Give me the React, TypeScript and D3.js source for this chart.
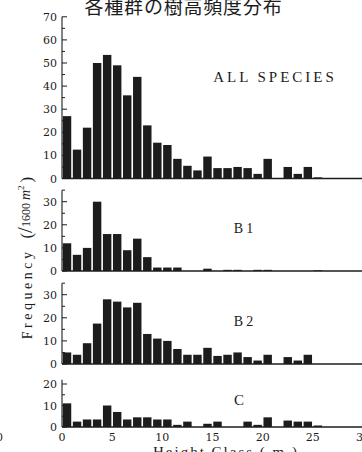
import * as d3 from 'd3';

// height classes (m), one bar per 1 m class
const heightClasses = [0, 1, 2, 3, 4, 5, 6, 7, 8, 9, 10, 11, 12, 13, 14, 15, 16, 17, 18, 19, 20, 21, 22, 23, 24, 25];

// frequency per 1600 m2
const allSpecies = [27, 12.5, 22, 50, 53.5, 49, 36, 44, 23, 15.5, 14.5, 8.5, 5.5, 3.5, 9.5, 4.5, 4.5, 5, 4.5, 2, 8.5, 0, 5, 2, 5, 0.5];
const groupB1 = [12, 7, 10, 30, 16, 16, 9, 14, 6, 1.5, 1.5, 1.5, 0, 0, 1, 0, 0.5, 0.5, 0, 0.5, 0.5, 0, 0, 0, 0, 0.3];
const groupB2 = [5, 4, 9, 17.5, 28, 27, 24.5, 26.5, 13, 11, 10, 6.5, 4, 4, 7, 3.5, 4, 5, 3, 1.5, 4, 0, 3, 1.5, 4, 0];
const groupC = [11, 2.5, 3.5, 3.5, 10, 7, 3.5, 4.5, 4.5, 3.5, 3.5, 1, 2.5, 0, 1.5, 2.5, 0, 0, 2.5, 1, 4.5, 0, 3, 2.5, 2.5, 0.7];

const xTicks = [0, 5, 10, 15, 20, 25, 30];
const allTicks = [0, 10, 20, 30, 40, 50, 60, 70];
const bTicks = [0, 10, 20, 30];
const cTicks = [0, 10, 20];

const W = 362;
const H = 452;
const INK = '#1c1c1c';
const numFont = '"DejaVu Serif", serif';
const txtFont = '"Liberation Serif", serif';

const x = d3.scaleLinear().domain([0, 30]).range([62, 363]);

const panels = [
  { name: 'ALL SPECIES', values: allSpecies, ticks: allTicks, axisTop: 70, base: 178.5, k: 2.31, lx: 275, ly: 82, size: 15, ls: 3 },
  { name: 'B1', values: groupB1, ticks: bTicks, axisTop: 35, base: 271, k: 2.31, lx: 245, ly: 233, size: 14, ls: 3 },
  { name: 'B2', values: groupB2, ticks: bTicks, axisTop: 35, base: 364, k: 2.31, lx: 245, ly: 326, size: 14, ls: 3 },
  { name: 'C', values: groupC, ticks: cTicks, axisTop: 22, base: 427, k: 2.15, lx: 239, ly: 405, size: 15, ls: 0 },
];

function Panel({ p }: { p: (typeof panels)[number] }) {
  const y = d3.scaleLinear().domain([0, p.axisTop]).range([p.base, p.base - p.axisTop * p.k]);
  const minor = d3.range(0, p.axisTop + 0.1, 5);
  return (
    <g>
      {/* bars */}
      {heightClasses.map((h, i) =>
        p.values[i] > 0 ? (
          <rect
            key={h}
            x={x(h) + 0.8}
            y={y(p.values[i])}
            width={x(h + 1) - x(h) - 1.6}
            height={y(0) - y(p.values[i])}
            fill={INK}
          />
        ) : null
      )}
      {/* baseline */}
      <line x1={x(0)} x2={W} y1={y(0)} y2={y(0)} stroke={INK} strokeWidth={1.3} />
      {/* y axis */}
      <line x1={x(0)} x2={x(0)} y1={y(0)} y2={y(p.axisTop)} stroke={INK} strokeWidth={1.1} />
      {minor.map(t => (
        <line
          key={t}
          x1={x(0)}
          x2={x(0) + (t % 10 === 0 ? 5 : 3)}
          y1={y(t)}
          y2={y(t)}
          stroke={INK}
          strokeWidth={1}
        />
      ))}
      {p.ticks.map(t => (
        <text key={t} x={57} y={y(t) + 4} textAnchor="end" fontSize={11} fontFamily={numFont} fill={INK}>
          {t}
        </text>
      ))}
      <text x={p.lx} y={p.ly} textAnchor="middle" fontSize={p.size} letterSpacing={p.ls} fontFamily={txtFont} fill={INK}>
        {p.name}
      </text>
    </g>
  );
}

export default function App() {
  return (
    <svg
      width={W}
      height={H}
      viewBox={`0 0 ${W} ${H}`}
      style={{ position: 'absolute', left: 0, top: 0, display: 'block', background: '#fff' }}
    >
      <rect width={W} height={H} fill="#fff" />
      <text x={183.5} y={14} textAnchor="middle" fontSize={19} letterSpacing={0.8} fontFamily='"Noto Sans CJK JP", sans-serif' fill={INK}>
        各種群の樹高頻度分布
      </text>

      {panels.map(p => (
        <Panel key={p.name} p={p} />
      ))}

      {/* x tick labels */}
      {xTicks.map(t => (
        <text key={t} x={x(t)} y={441} textAnchor="middle" fontSize={11} fontFamily={numFont} fill={INK}>
          {t}
        </text>
      ))}
      {/* stray label from neighbouring figure */}
      <text x={3} y={441} textAnchor="end" fontSize={11} fontFamily={numFont} fill={INK}>0</text>

      <text x={226} y={457} textAnchor="middle" fontSize={15} letterSpacing={2} fontFamily={txtFont} fill={INK}>
        Height Class ( m )
      </text>

      <text transform="translate(32,258) rotate(-90)" textAnchor="middle" fontFamily={txtFont} fill={INK}>
        <tspan fontSize={14} letterSpacing={3.5}>Frequency</tspan>
        <tspan fontSize={17} dx={10}>(</tspan>
        <tspan fontSize={21}>/</tspan>
        <tspan fontSize={12} dy={-2}>1600 </tspan>
        <tspan fontSize={14} fontStyle="italic">m</tspan>
        <tspan fontSize={9} dy={-6}>2</tspan>
        <tspan fontSize={17} dy={8} dx={3}>)</tspan>
      </text>
    </svg>
  );
}
